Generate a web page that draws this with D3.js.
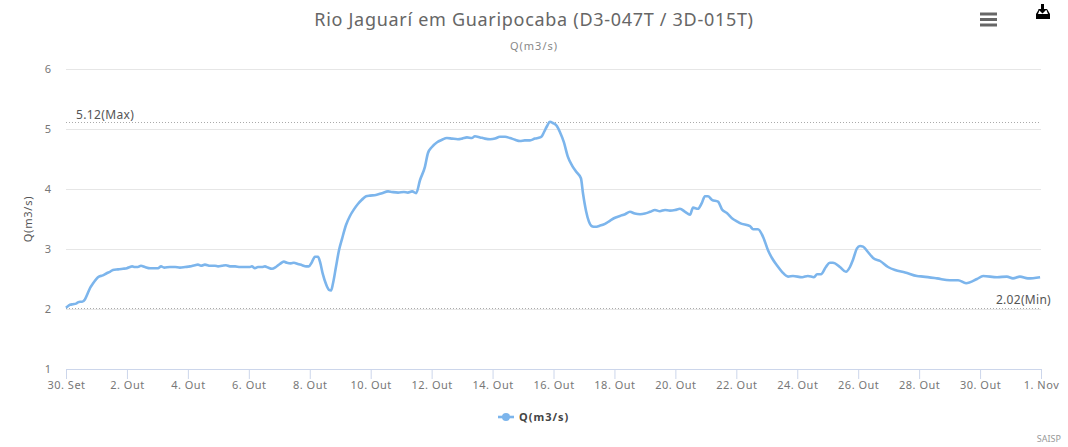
<!DOCTYPE html>
<html><head><meta charset="utf-8">
<script src="https://cdn.jsdelivr.net/npm/d3@7"></script>
<style>html,body{margin:0;padding:0;background:#fff}svg{display:block}text{font-family:"Noto Sans","Open Sans",sans-serif}</style>
</head><body><svg id="c" width="1068" height="447"></svg>
<script>
const titleText="Rio Jaguarí em Guaripocaba (D3-047T / 3D-015T)";
const seriesName="Q(m3/s)";
const yTicks=[1,2,3,4,5,6];
const tickDays=[0,2,4,6,8,10,12,14,16,18,20,22,24,26,28,30,32];
const tickLabels=["30. Set","2. Out","4. Out","6. Out","8. Out","10. Out","12. Out","14. Out","16. Out","18. Out","20. Out","22. Out","24. Out","26. Out","28. Out","30. Out","1. Nov"];
const maxValue=5.12, minValue=2.02;
const days=[0,.07,.13,.23,.33,.39,.46,.53,.62,.72,.79,.89,.98,1.08,1.21,1.35,1.44,1.54,1.71,1.87,2,2.1,2.17,2.26,2.36,2.46,2.59,2.76,2.92,3.02,3.12,3.22,3.41,3.58,3.74,3.91,4.07,4.23,4.33,4.43,4.56,4.73,4.89,4.99,5.12,5.25,5.38,5.55,5.71,5.91,6.04,6.1,6.2,6.3,6.43,6.53,6.63,6.76,6.89,7.02,7.15,7.25,7.38,7.48,7.61,7.75,7.88,7.97,8.07,8.17,8.27,8.34,8.43,8.53,8.63,8.7,8.76,8.86,8.96,9.06,9.19,9.32,9.45,9.58,9.71,9.85,9.98,10.17,10.37,10.57,10.7,10.9,11.09,11.22,11.36,11.49,11.62,11.78,11.88,12.01,12.18,12.34,12.5,12.67,12.86,13,13.16,13.32,13.42,13.59,13.75,13.92,14.08,14.24,14.41,14.57,14.74,14.9,15.06,15.23,15.39,15.56,15.62,15.69,15.79,15.88,15.98,16.11,16.21,16.34,16.47,16.61,16.74,16.9,16.97,17.07,17.16,17.26,17.36,17.53,17.69,17.85,18.02,18.18,18.35,18.51,18.67,18.84,19,19.17,19.33,19.49,19.66,19.82,19.99,20.15,20.32,20.48,20.58,20.74,20.87,20.97,21.07,21.2,21.4,21.53,21.69,21.89,22.02,22.12,22.45,22.55,22.71,22.88,23.04,23.17,23.33,23.5,23.7,23.86,24.16,24.35,24.55,24.65,24.78,24.94,25.07,25.17,25.4,25.6,25.73,25.83,25.96,26.06,26.16,26.32,26.49,26.72,26.98,27.21,27.54,27.93,28.13,28.59,29.01,29.28,29.54,29.9,30.1,30.56,30.88,31.08,31.31,31.57,31.97];
const flow=[2.02,2.05,2.07,2.08,2.09,2.11,2.12,2.12,2.16,2.27,2.35,2.43,2.49,2.54,2.56,2.6,2.62,2.65,2.66,2.67,2.68,2.7,2.71,2.7,2.7,2.72,2.7,2.68,2.68,2.68,2.71,2.69,2.7,2.7,2.69,2.7,2.71,2.73,2.74,2.72,2.74,2.72,2.72,2.71,2.72,2.73,2.71,2.71,2.7,2.7,2.7,2.71,2.68,2.7,2.7,2.71,2.69,2.67,2.7,2.75,2.79,2.77,2.76,2.77,2.75,2.73,2.71,2.71,2.78,2.87,2.87,2.78,2.58,2.42,2.32,2.31,2.42,2.7,2.98,3.17,3.4,3.55,3.66,3.75,3.82,3.88,3.89,3.9,3.93,3.96,3.95,3.94,3.95,3.94,3.96,3.93,4.15,4.37,4.6,4.7,4.78,4.82,4.85,4.84,4.83,4.84,4.86,4.85,4.88,4.86,4.84,4.83,4.84,4.87,4.87,4.85,4.82,4.8,4.81,4.81,4.84,4.86,4.88,4.95,5.05,5.12,5.1,5.05,4.95,4.78,4.54,4.39,4.29,4.18,3.92,3.63,3.46,3.38,3.37,3.39,3.42,3.47,3.52,3.55,3.58,3.62,3.59,3.58,3.59,3.62,3.65,3.63,3.65,3.64,3.65,3.67,3.62,3.57,3.69,3.67,3.77,3.88,3.88,3.82,3.79,3.66,3.6,3.5,3.46,3.43,3.38,3.33,3.33,3.2,2.98,2.85,2.73,2.62,2.54,2.55,2.53,2.55,2.53,2.58,2.58,2.7,2.77,2.77,2.7,2.62,2.7,2.82,3.01,3.05,3.04,2.95,2.85,2.8,2.7,2.65,2.61,2.55,2.54,2.51,2.48,2.48,2.43,2.5,2.55,2.53,2.54,2.51,2.54,2.51,2.53];

const start=Date.UTC(2019,8,30), DAY=864e5;
const toDate=d=>new Date(start+d*DAY);
const x=d3.scaleUtc().domain([toDate(0),toDate(32)]).range([66,1041]);
const y=d3.scaleLinear().domain([1,6]).range([369,69]);
const svg=d3.select("#c");

svg.append("text").attr("x",534).attr("y",26).attr("text-anchor","middle").attr("font-size",18).attr("letter-spacing",.7).attr("fill","#666").text(titleText);
svg.append("text").attr("x",534).attr("y",50).attr("text-anchor","middle").attr("font-size",11).attr("letter-spacing",1).attr("fill","#888").text(seriesName);

// y grid and labels
const ya=svg.append("g").attr("transform","translate(66,0)")
  .call(d3.axisLeft(y).tickValues(yTicks).tickSize(-975).tickPadding(15).tickFormat(d3.format("d")));
ya.select(".domain").remove();
ya.selectAll(".tick line").attr("stroke","#e6e6e6");
ya.selectAll(".tick").filter(d=>d===1).select("line").remove();
ya.selectAll("text").attr("font-size",11).attr("fill","#777").attr("font-family",null);
svg.append("text").attr("transform","translate(32,219) rotate(-90)").attr("text-anchor","middle").attr("font-size",11).attr("letter-spacing",.8).attr("fill","#555").text(seriesName);

// x axis
const xa=svg.append("g").attr("transform","translate(0,369)")
  .call(d3.axisBottom(x).tickValues(tickDays.map(toDate)).tickSize(10).tickPadding(2).tickFormat((d,i)=>tickLabels[i]));
xa.select(".domain").attr("stroke","#ccd6eb").attr("d","M66,0.5H1041");
xa.selectAll(".tick line").attr("stroke","#ccd6eb");
xa.selectAll("text").attr("font-size",11).attr("letter-spacing",.5).attr("fill","#777").attr("font-family",null);

// max/min plot lines
[maxValue,minValue].forEach(v=>{
  const p=Math.round(y(v))+.5;
  svg.append("line").attr("x1",66).attr("x2",1041).attr("y1",p).attr("y2",p)
    .attr("stroke","#aaa").attr("stroke-dasharray","1 2");
});
svg.append("text").attr("x",76).attr("y",y(maxValue)-3).attr("font-size",12).attr("letter-spacing",.35).attr("fill","#555").text(maxValue.toFixed(2)+"(Max)");
svg.append("text").attr("x",1051).attr("y",y(minValue)-4).attr("text-anchor","end").attr("font-size",12).attr("letter-spacing",.3).attr("fill","#555").text(minValue.toFixed(2)+"(Min)");

// series
const line=d3.line().x(d=>x(toDate(d))).y((d,i)=>y(flow[i])).curve(d3.curveMonotoneX);
svg.append("path").attr("d",line(days)).attr("fill","none").attr("stroke","#7cb5ec").attr("stroke-width",2.6).attr("stroke-linejoin","round");

// legend
svg.append("line").attr("x1",498).attr("x2",514).attr("y1",417).attr("y2",417).attr("stroke","#7cb5ec").attr("stroke-width",2.6);
svg.append("circle").attr("cx",506).attr("cy",417).attr("r",4).attr("fill","#7cb5ec");
svg.append("text").attr("x",519).attr("y",421).attr("font-size",11).attr("font-weight","bold").attr("letter-spacing",1).attr("fill","#444").text(seriesName);

// credit
svg.append("text").attr("x",1061).attr("y",442).attr("text-anchor","end").attr("font-size",9).attr("fill","#999").text("SAISP");

// menu icons
[14,19.5,25].forEach(v=>svg.append("line").attr("x1",980).attr("x2",997).attr("y1",v).attr("y2",v).attr("stroke","#666").attr("stroke-width",3));
svg.append("path").attr("fill","#000").attr("d","M1041 4h3v5h3l-4.5 4.5L1038 9h3zM1036 19v-5l3-5h1l-2 5h10l-2-5h1l3 5v5z");
</script></body></html>
